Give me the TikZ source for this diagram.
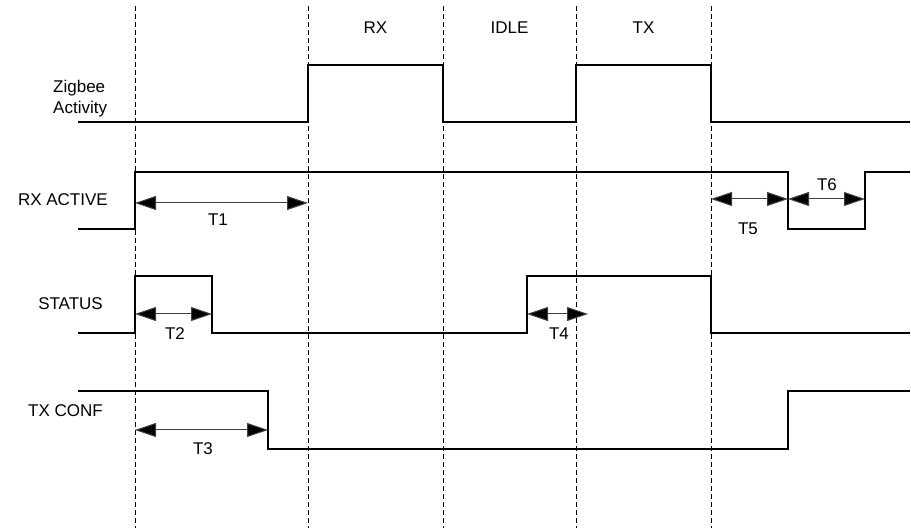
\documentclass[tikz,border=0pt]{standalone}
\usepackage{fontspec}
\setmainfont{Liberation Sans}
\usetikzlibrary{arrows.meta}
\begin{document}
\begin{tikzpicture}[x=1pt,y=-1pt,
 sig/.style={line width=1.6pt, line join=miter},
 gridline/.style={line width=0.9pt, dash pattern=on 5pt off 3pt},
 dim/.style={line width=1pt, draw=black!75, {Triangle[length=21pt,width=14pt,fill=black]}-{Triangle[length=21pt,width=14pt,fill=black]}},
 lbl/.style={font=\fontsize{17}{21}\selectfont, inner sep=0pt},
]
\useasboundingbox (0,0) rectangle (911,529);
% dashed reference lines
\foreach \n/\x in {a/135,b/308,c/443,d/576,e/711}{
  \coordinate (\n t) at (\x,6);
  \coordinate (\n b) at (\x,528);
  \draw[gridline] (\n t) -- (\n b);
}
% phase labels
\node[lbl] (rx) at (375.5,28) {RX};
\node[lbl] (idle) at (509.5,28) {IDLE};
\node[lbl] (tx) at (643.5,28) {TX};
% signal names
\node[lbl, anchor=west, align=left] (zig) at (53,99) {Zigbee\\Activity};
\node[lbl, anchor=east] (rxa) at (108,200) {RX ACTIVE};
\node[lbl, anchor=east] (stat) at (103,304) {STATUS};
\node[lbl, anchor=east] (txc) at (103,411) {TX CONF};
% waveforms
\draw[sig] (78,122) -- (308,122) -- (308,65) -- (443,65) -- (443,122) -- (576,122) -- (576,65) -- (711,65) -- (711,122) -- (910,122);
\draw[sig] (78,229) -- (135,229) -- (135,172) -- (788,172) -- (788,229) -- (865,229) -- (865,172) -- (910,172);
\draw[sig] (78,333) -- (135,333) -- (135,276) -- (212,276) -- (212,333) -- (527,333) -- (527,276) -- (711,276) -- (711,333) -- (910,333);
\draw[sig] (78,391) -- (268,391) -- (268,449) -- (788,449) -- (788,391) -- (910,391);
% timing coordinates
\coordinate (t1a) at (135,203); \coordinate (t1b) at (308,203);
\coordinate (t2a) at (135,314); \coordinate (t2b) at (212,314);
\coordinate (t3a) at (135,430); \coordinate (t3b) at (268,430);
\coordinate (t4a) at (527,314); \coordinate (t4b) at (588,314);
\coordinate (t5a) at (711,199); \coordinate (t5b) at (788,199);
\coordinate (t6a) at (788,199); \coordinate (t6b) at (865,199);
\draw[dim] (t1a) -- (t1b);
\draw[dim] (t2a) -- (t2b);
\draw[dim] (t3a) -- (t3b);
\draw[dim] (t4a) -- (t4b);
\draw[dim] (t5a) -- (t5b);
\draw[dim] (t6a) -- (t6b);
\node[lbl] (T1) at (218,220) {T1};
\node[lbl] (T2) at (175,334) {T2};
\node[lbl] (T3) at (203,449) {T3};
\node[lbl] (T4) at (559,334) {T4};
\node[lbl] (T5) at (748,229) {T5};
\node[lbl] (T6) at (827,185) {T6};
\end{tikzpicture}
\end{document}
